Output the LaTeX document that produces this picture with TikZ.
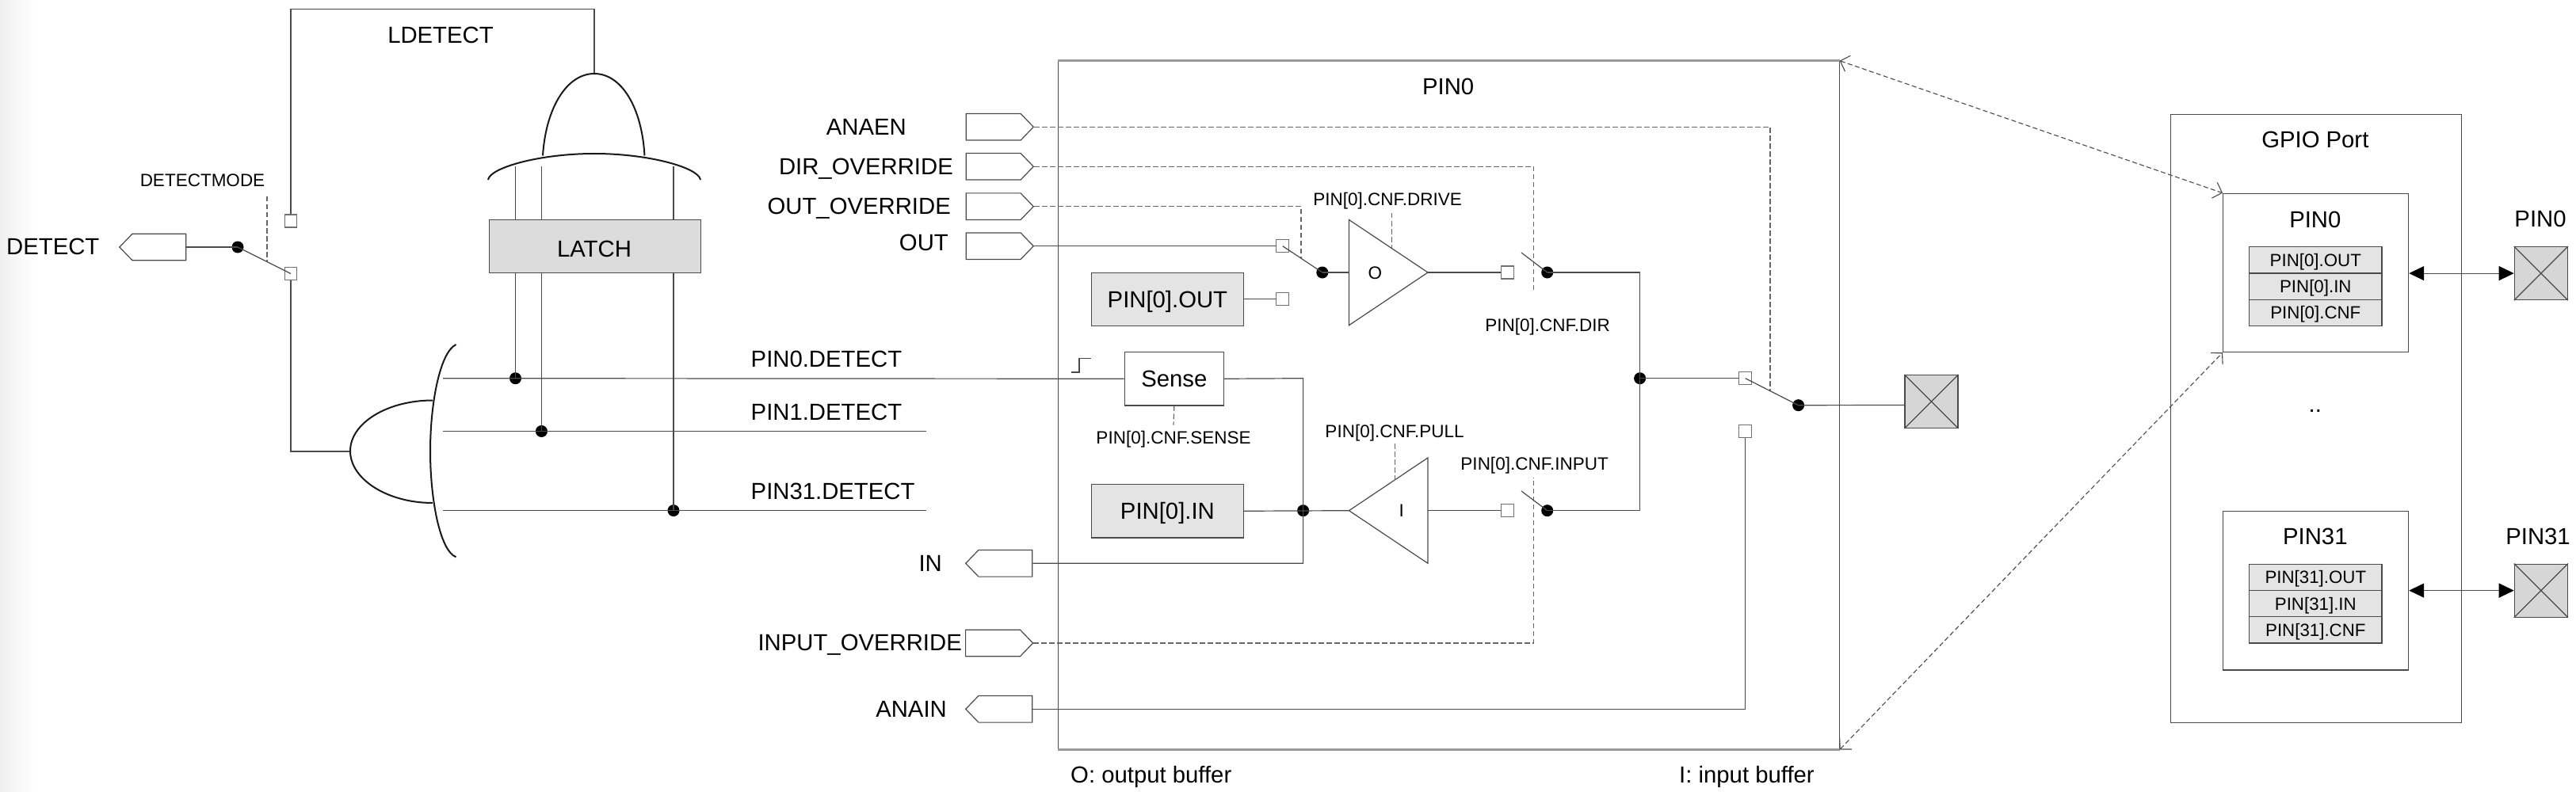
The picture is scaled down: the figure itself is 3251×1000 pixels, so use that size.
\documentclass[tikz,border=0pt]{standalone}
\usepackage{fontspec}
\setmainfont{Liberation Sans}
\usetikzlibrary{arrows.meta,shapes.symbols}
\definecolor{ln}{HTML}{4A4A4A}
\definecolor{sqc}{HTML}{707070}
\definecolor{regf}{HTML}{E4E4E4}
\definecolor{padf}{HTML}{D6D6D6}
\tikzset{
  wire/.style={draw=ln,line width=1.2pt},
  dwire/.style={draw=ln!85!white,line width=1.2pt,dash pattern=on 6.5pt off 3.5pt},
  gate/.style={draw=black!90,line width=2pt},
  big/.style={inner sep=0pt,text=black,font=\fontsize{29.3}{32}\selectfont,text height=21pt,text depth=0pt},
  small/.style={inner sep=0pt,text=black,font=\fontsize{22.5}{26}\selectfont,text height=16pt,text depth=0pt},
  box/.style={draw=ln,line width=1.2pt,rectangle,inner sep=0pt,minimum width=#1},
  sq/.style={draw=sqc,line width=1.2pt,fill=white,rectangle,inner sep=0pt,minimum width=16pt,minimum height=16pt},
  dot/.style={circle,fill=black,inner sep=0pt,minimum size=15pt},
  portR/.style={signal,signal to=east,signal from=nowhere,signal pointer angle=92,draw=ln,line width=1.2pt,inner sep=0pt,minimum width=85pt,minimum height=33.6pt},
  portL/.style={signal,signal to=west,signal from=nowhere,signal pointer angle=92,draw=ln,line width=1.2pt,inner sep=0pt,minimum width=84pt,minimum height=33.6pt},
  pad/.style={draw=ln,line width=1.2pt,fill=padf,rectangle,inner sep=0pt,minimum width=67pt,minimum height=67pt},
  reg/.style={draw=ln,line width=1.2pt,fill=regf,rectangle,inner sep=0pt,minimum width=167.4pt,minimum height=33.3pt,font=\fontsize{22.3}{26}\selectfont,text height=16pt,text depth=0pt},
  dbl/.style={wire,{Triangle[length=19pt,width=18pt,color=black]}-{Triangle[length=19pt,width=18pt,color=black]}},
  zoomline/.style={draw=ln,line width=1.1pt,dash pattern=on 6pt off 3.5pt,{Straight Barb[length=10pt,width=21pt,line width=1.1pt]}-{Straight Barb[length=10pt,width=21pt,line width=1.1pt]}},
  heavy/.style={draw=black!40,line width=2.4pt}
}
\begin{document}
\begin{tikzpicture}[x=1pt,y=-1pt]
\useasboundingbox (0,0) rectangle (3251,1000);
\fill[white] (0,0) rectangle (3251,1000);
\shade[left color=black!6,right color=white] (0,0) rectangle (45,1000);

% ---------- main frame and GPIO boxes
\node[box=985.5pt,minimum height=868.6pt,anchor=north west] (frame) at (1335,76.7) {};
\draw[heavy] (frame.north west) -- (frame.north east);
\draw[heavy] (frame.south west) -- (frame.south east);
\node[box=367.2pt,minimum height=768pt,anchor=north west] (gpio) at (2738.5,143.8) {};
\node[box=234pt,minimum height=200.3pt,anchor=north west] (bpin0) at (2805,243.7) {};
\node[box=234pt,minimum height=200.3pt,anchor=north west] (bpin31) at (2805,645) {};

% ---------- left logic
\node[rectangle,draw=ln,line width=1.2pt,fill=padf!85!white,inner sep=0pt,minimum width=267.5pt,minimum height=67pt,anchor=north west] (latch) at (616.5,277) {};
\node[big] (latchT) at (750,314) {LATCH};
\node[big] (ldetect) at (556,44) {LDETECT};
\node[small] (dmode) at (255.5,228) {DETECTMODE};
\node[big,anchor=west] (detectT) at (8,311) {DETECT};
\node[portL,anchor=west] (detect) at (150,312) {};
\node[dot] (d0) at (300,312) {};
\node[sq,minimum width=15pt] (s1) at (367,279) {};
\node[sq,minimum width=15pt] (s2) at (367,345.5) {};
\coordinate (and1top) at (750,93);
\coordinate (or1in) at (442,570);
\coordinate (lcorner1) at (367,11.5);
\coordinate (lcorner2) at (750,11.5);
\coordinate (lcorner3) at (367,570);
\coordinate (dmA) at (337,248);
\coordinate (dmB) at (337,330);
\draw[wire] (detect.east) -- (d0.center);
\draw[wire] (d0.center) -- (s2.center);
\draw[dwire] (dmA) -- (dmB);
\draw[wire] (s1.north) -- (lcorner1) -- (lcorner2) -- (and1top);
\draw[wire] (s2.south) -- (lcorner3) -- (or1in);

\draw[gate] (685,196.5) .. controls (689,135) and (716,93) .. (750,93) .. controls (784,93) and (810,135) .. (813.5,196.5);
\draw[gate] (616,227) .. controls (618,212) and (680,194) .. (750,194) .. controls (820,194) and (882,212) .. (884,227);
\draw[gate] (546,505.5) .. controls (489,505.5) and (442,534) .. (442,569.5) .. controls (442,605) and (489,635) .. (546,635);
\draw[gate] (575.5,435) .. controls (555,445) and (543,510) .. (543,569.5) .. controls (543,630) and (555,695) .. (575.5,703.4);

\coordinate (p0in) at (559,477.7);
\coordinate (p1in) at (559,544.5);
\coordinate (p31in) at (559,644.6);
\coordinate (p1end) at (1168.6,544.5);
\coordinate (p31end) at (1168.6,644.6);
\node[dot] (j0) at (650.5,477.7) {};
\node[dot] (j1) at (683.4,544.5) {};
\node[dot] (j31) at (850,644.6) {};
\foreach \n/\x in {a/650.5,b/683.4,c/850}{
  \coordinate (top\n) at (\x,210);
  \coordinate (lt\n) at (\x,277);
  \coordinate (lb\n) at (\x,344);
}
\draw[wire] (topa) -- (lta); \draw[wire] (lba) -- (j0.center);
\draw[wire] (topb) -- (ltb); \draw[wire] (lbb) -- (j1.center);
\draw[wire] (topc) -- (ltc); \draw[wire] (lbc) -- (j31.center);
\node[big,anchor=west] (t0) at (947.5,453) {PIN0.DETECT};
\node[big,anchor=west] (t1) at (947.5,520) {PIN1.DETECT};
\node[big,anchor=west] (t31) at (947.5,620) {PIN31.DETECT};
\draw[wire] (p1in) -- (p1end);
\draw[wire] (p31in) -- (p31end);

% ---------- ports
\node[portR,anchor=west] (anaen) at (1218.7,160.3) {};
\node[portR,anchor=west] (dir) at (1218.7,210.3) {};
\node[portR,anchor=west] (ovr) at (1218.7,260.7) {};
\node[portR,anchor=west] (out) at (1218.7,310.7) {};
\node[portL,anchor=west] (in) at (1217.9,711.3) {};
\node[portR,anchor=west] (inov) at (1218,812) {};
\node[portL,anchor=west] (anain) at (1217.9,895.3) {};
\node[big,anchor=east] at (1144,160) {ANAEN};
\node[big,anchor=east] at (1203,210) {DIR\_OVERRIDE};
\node[big,anchor=east] at (1200,260) {OUT\_OVERRIDE};
\node[big,anchor=east] at (1197,306) {OUT};
\node[big,anchor=east] at (1189,711) {IN};
\node[big,anchor=east] at (1214,811) {INPUT\_OVERRIDE};
\node[big,anchor=east] at (1195,895) {ANAIN};
\node[big] at (1827.7,109) {PIN0};

% ---------- inside PIN0
\node[box=192pt,fill=regf,minimum height=67pt,anchor=north west,big] (rout) at (1376.8,344) {PIN[0].OUT};
\node[box=192pt,fill=regf,minimum height=67.3pt,anchor=north west,big] (rin) at (1376.8,611) {PIN[0].IN};
\node[box=125pt,minimum height=67.3pt,anchor=north west,big] (sense) at (1418.7,444) {Sense};
\node[sq] (s3) at (1618.7,310.7) {};
\node[sq] (s4) at (1618.7,377.3) {};
\node[sq] (s5) at (1902.7,344) {};
\node[sq] (s6) at (1902.7,644.7) {};
\node[sq] (s7) at (2202.7,477.7) {};
\node[sq] (s8) at (2202.7,544.7) {};
\node[dot] (d1) at (1668.8,344) {};
\node[dot] (d2) at (1952.7,344) {};
\node[dot] (d3) at (1952.7,644.7) {};
\node[dot] (d4) at (2069.6,477.7) {};
\node[dot] (d5) at (2269.6,511.7) {};
\node[dot] (d6) at (1644.6,644.7) {};
\coordinate (obufin) at (1702.5,344);
\coordinate (obufout) at (1802,344);
\coordinate (ibufin) at (1702.5,644.7);
\coordinate (ibufout) at (1802,644.7);
\draw[wire] (1702.5,277.5) -- (1702.5,410.7) -- (1802,344) -- cycle;
\draw[wire] (1802,578) -- (1802,711.3) -- (1702.5,644.7) -- cycle;
\node[small] at (1735.3,344) {O};
\node[small] at (1768.8,644.7) {I};
\node[small] at (1751,251.7) {PIN[0].CNF.DRIVE};
\node[small] at (1953,410.7) {PIN[0].CNF.DIR};
\node[small] at (1481,552) {PIN[0].CNF.SENSE};
\node[small] at (1760,544) {PIN[0].CNF.PULL};
\node[small] at (1936.6,585.7) {PIN[0].CNF.INPUT};
\node[big,anchor=west] at (1351,978) {O: output buffer};
\node[big,anchor=west] at (2119,978) {I: input buffer};

\coordinate (c1) at (2234,160.3); \coordinate (c1b) at (2234,493);
\coordinate (c2) at (1935.7,210.3); \coordinate (c2b) at (1935.7,368);
\coordinate (c3) at (1642,260.7); \coordinate (c3b) at (1642,326);
\coordinate (c4) at (1935.7,812); \coordinate (c4b) at (1935.7,603);
\draw[dwire] (anaen.east) -- (c1) -- (c1b);
\draw[dwire] (dir.east) -- (c2) -- (c2b);
\draw[dwire] (ovr.east) -- (c3) -- (c3b);
\draw[dwire] (inov.east) -- (c4) -- (c4b);
\draw[dwire] (1756.7,269) -- (1756.7,313);
\draw[dwire] (1760.7,560) -- (1760.7,606);
\draw[dwire] (sense.south) -- (1481,536.7);

\draw[wire] (out.east) -- (s3.west);
\draw[wire] (s3.center) -- (d1.center);
\draw[wire] (d1.center) -- (obufin);
\draw[wire] (rout.east |- s4) -- (s4.west);
\draw[wire] (obufout) -- (s5.west);
\draw[wire] (d2.center) -- (1920,319);
\draw[wire] (d3.center) -- (1920,620);
\draw[wire] (d2.center) -- (2069.6,344) -- (2069.6,644.7) -- (d3.center);
\draw[wire] (d4.center) -- (s7.west);
\draw[wire] (s7.center) -- (d5.center);
\draw[wire] (p0in) -- (sense.west);
\draw[wire] (sense.east) -- (1644.6,477.7) -- (1644.6,711.3) -- (in.east);
\draw[wire] (rin.east) -- (ibufin);
\draw[wire] (ibufout) -- (s6.west);
\draw[wire] (s8.south) -- (2202.7,895.3) -- (anain.east);
\draw[wire] (1351.8,470) -- (1362,470) -- (1362,452.7) -- (1376.8,452.7);

% ---------- pads
\node[pad] (pad) at (2437.5,507) {};
\node[pad,anchor=north west] (pad0) at (3172.7,311) {};
\node[pad,anchor=north west] (pad31) at (3172.7,711.5) {};
\foreach \p in {pad,pad0,pad31}{
  \draw[wire] (\p.north west) -- (\p.south east);
  \draw[wire] (\p.south west) -- (\p.north east);
}
\coordinate (padin) at (2403.9,511.5);
\draw[wire] (d5.center) -- (padin);

% ---------- GPIO port
\node[big] at (2921.8,176) {GPIO Port};
\node[big] at (2921.8,277) {PIN0};
\node[big] at (2921.8,677) {PIN31};
\node[big] (dots) at (2921.8,510) {..};
\node[reg,anchor=north west] (r01) at (2838,311) {PIN[0].OUT};
\node[reg,anchor=north west] (r02) at (2838,344.3) {PIN[0].IN};
\node[reg,anchor=north west] (r03) at (2838,377.6) {PIN[0].CNF};
\node[reg,anchor=north west] (r11) at (2838,711.5) {PIN[31].OUT};
\node[reg,anchor=north west] (r12) at (2838,744.8) {PIN[31].IN};
\node[reg,anchor=north west] (r13) at (2838,778.1) {PIN[31].CNF};
\node[big] at (3206,276.5) {PIN0};
\node[big] at (3203,676.5) {PIN31};
\draw[dbl] (bpin0.east |- pad0.west) -- (pad0.west);
\draw[dbl] (bpin31.east |- pad31.west) -- (pad31.west);
\draw[zoomline] (frame.north east) -- (bpin0.north west);
\draw[zoomline] (frame.south east) -- (bpin0.south west);
\end{tikzpicture}
\end{document}
